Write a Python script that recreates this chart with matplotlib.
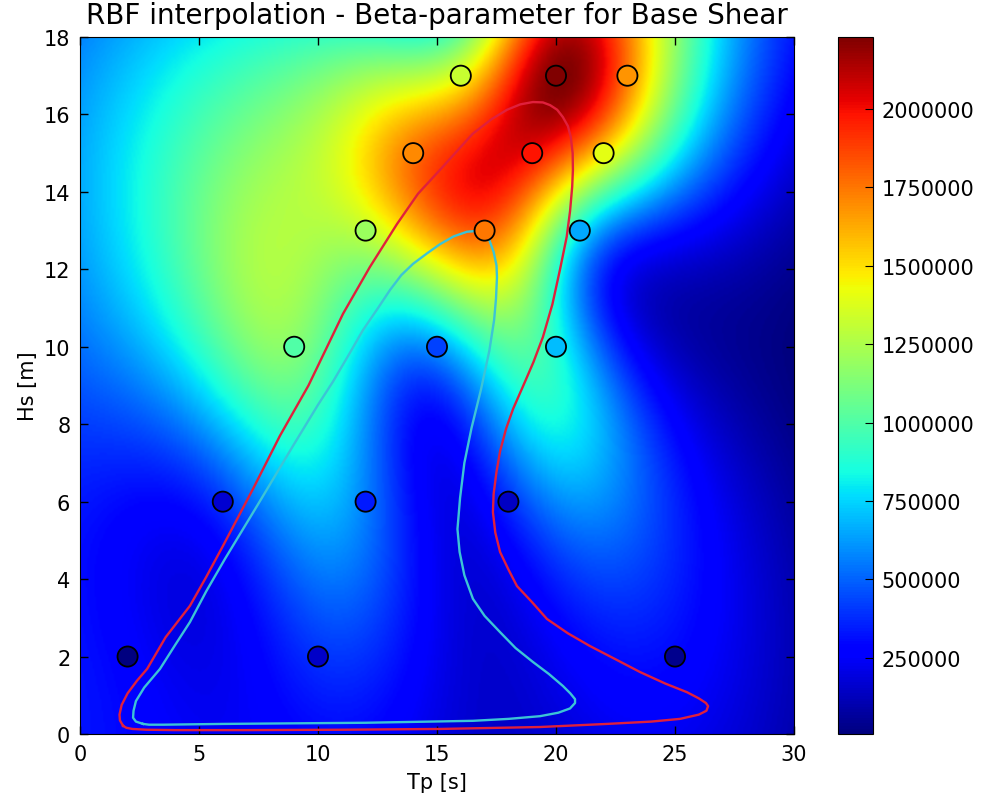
import numpy as np
import matplotlib
matplotlib.use("Agg")
import matplotlib.pyplot as plt

# Sea-state sample points (peak period, significant wave height) and the beta value at each
tp = [2, 10, 25, 6, 12, 18, 9, 15, 20, 12, 17, 21, 14, 19, 22, 16, 20, 23]
hs = [2, 2, 2, 6, 6, 6, 10, 10, 10, 13, 13, 13, 15, 15, 15, 17, 17, 17]
beta = [7400, 150000, 40000, 170000, 340000, 140000, 1000000, 430000, 700000,
        1200000, 1750000, 650000, 1700000, 1980000, 1400000, 1320000, 2229000, 1680000]

# Environmental contours as closed loops of (Tp, Hs)
red_contour = [
    (1.81, 0.21), (1.68, 0.35), (1.66, 0.5), (1.75, 0.75), (2.0, 1.05), (2.4, 1.38),
    (2.82, 1.68), (3.6, 2.5), (4.62, 3.31), (5.3, 4.05), (6.01, 4.86), (7.27, 6.33),
    (8.4, 7.7), (9.6, 9.0), (11.05, 10.85), (12.18, 12.06), (13.32, 13.17),
    (14.2, 13.95), (15.13, 14.57), (16.5, 15.5), (17.3, 15.88), (17.94, 16.12),
    (18.5, 16.26), (19.03, 16.32), (19.45, 16.31), (19.75, 16.24), (20.05, 16.12),
    (20.29, 15.93), (20.5, 15.7), (20.62, 15.42), (20.7, 15.0), (20.71, 14.57),
    (20.68, 14.13), (20.59, 13.5), (20.45, 12.84), (20.17, 12.0), (19.85, 11.1),
    (19.45, 10.25), (19.05, 9.6), (18.6, 8.96), (18.2, 8.4), (17.9, 7.88),
    (17.65, 7.3), (17.5, 6.77), (17.38, 6.2), (17.35, 5.73), (17.45, 5.2),
    (17.65, 4.7), (18.0, 4.25), (18.36, 3.82), (19.0, 3.4), (19.62, 2.97),
    (20.5, 2.6), (21.43, 2.27), (22.5, 1.93), (23.53, 1.6), (24.6, 1.3),
    (25.5, 1.08), (26.0, 0.92), (26.3, 0.8), (26.39, 0.72), (26.32, 0.6),
    (26.0, 0.5), (25.21, 0.39), (24.0, 0.32), (22.14, 0.26), (19.33, 0.18),
    (15.13, 0.13), (11.0, 0.11), (7.0, 0.1), (4.0, 0.1), (2.8, 0.11), (2.2, 0.13),
    (1.95, 0.16), (1.81, 0.21),
]
cyan_contour = [
    (2.65, 0.26), (2.35, 0.32), (2.23, 0.42), (2.25, 0.6), (2.35, 0.85), (2.7, 1.2),
    (3.36, 1.68), (4.0, 2.3), (4.62, 2.89), (5.3, 3.68), (6.09, 4.52), (7.44, 5.89),
    (8.95, 7.44), (10.0, 8.5), (10.63, 9.1), (11.3, 9.8), (11.89, 10.43),
    (12.5, 10.98), (13.03, 11.47), (13.5, 11.85), (13.99, 12.14), (14.6, 12.42),
    (15.13, 12.65), (15.7, 12.85), (16.26, 12.97), (16.65, 12.99), (16.93, 12.92),
    (17.2, 12.75), (17.38, 12.45), (17.5, 12.1), (17.52, 11.8), (17.48, 11.25),
    (17.4, 10.69), (17.2, 9.9), (16.85, 8.9), (16.45, 7.9), (16.15, 7.0),
    (15.97, 6.1), (15.86, 5.29), (15.95, 4.7), (16.15, 4.1), (16.51, 3.49),
    (17.0, 3.05), (17.65, 2.63), (18.3, 2.22), (19.03, 1.86), (19.7, 1.55),
    (20.29, 1.24), (20.6, 1.05), (20.8, 0.9), (20.8, 0.8), (20.59, 0.66),
    (20.1, 0.55), (19.33, 0.46), (18.0, 0.39), (16.51, 0.34), (12.0, 0.29),
    (6.0, 0.26), (3.5, 0.24), (2.9, 0.24), (2.65, 0.26),
]

cbar_ticks = [250000, 500000, 750000, 1000000, 1250000, 1500000, 1750000, 2000000]

# Multiquadric radial basis interpolation of beta over the (Tp, Hs) plane
x = np.asarray(tp, float)
y = np.asarray(hs, float)
z = np.asarray(beta, float)
eps = 5.0


def multiquadric(r):
    return np.sqrt((r / eps) ** 2 + 1.0)


d = np.hypot(x[:, None] - x[None, :], y[:, None] - y[None, :])
w = np.linalg.solve(multiquadric(d), z)

gx = np.linspace(0, 30, 400)
gy = np.linspace(0, 18, 300)
GX, GY = np.meshgrid(gx, gy)
R = np.hypot(GX[..., None] - x, GY[..., None] - y)
field = multiquadric(R) @ w

red_tp, red_hs = zip(*red_contour)
cyan_tp, cyan_hs = zip(*cyan_contour)

plt.rcParams['font.family'] = ['DejaVu Sans']
fig = plt.figure(figsize=(9.85, 8.03), dpi=100)
ax = fig.add_axes([0.0812, 0.0847, 0.7249, 0.868])
cax = fig.add_axes([0.8508, 0.0847, 0.0355, 0.868])

ax.imshow(field, extent=[0, 30, 0, 18], origin='lower', cmap='jet',
          aspect='auto', interpolation='bilinear')
ax.plot(red_tp, red_hs, color='#e0203c', lw=1.7, solid_joinstyle='round')
ax.plot(cyan_tp, cyan_hs, color='#3cc4d6', lw=1.7, solid_joinstyle='round')
sc = ax.scatter(tp, hs, c=beta, cmap='jet', s=210, edgecolors='black',
                linewidths=1.3, zorder=3)

ax.set_xlim(0, 30)
ax.set_ylim(0, 18)
ax.set_xticks([0, 5, 10, 15, 20, 25, 30])
ax.set_yticks([0, 2, 4, 6, 8, 10, 12, 14, 16, 18])
ax.tick_params(direction='in', top=True, right=True, length=6, width=1,
               labelsize=15, pad=7)
ax.set_xlabel('Tp [s]', fontsize=15, labelpad=6)
ax.set_ylabel('Hs [m]', fontsize=15)
ax.set_title('RBF interpolation - Beta-parameter for Base Shear', fontsize=20, pad=10)

cb = fig.colorbar(sc, cax=cax, ticks=cbar_ticks)
cb.ax.tick_params(direction='in', length=6, labelsize=15, pad=6)
cb.ax.set_yticklabels([str(t) for t in cbar_ticks])

fig.savefig('out.png', dpi=100)
